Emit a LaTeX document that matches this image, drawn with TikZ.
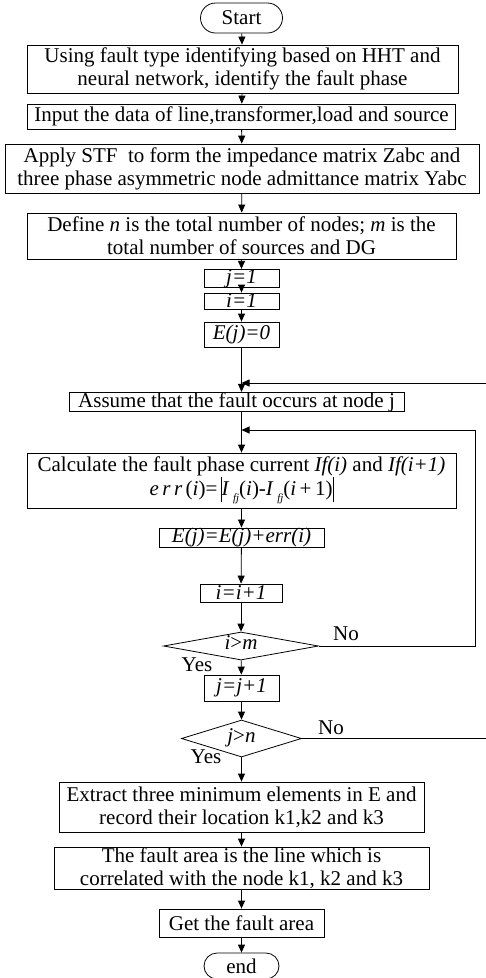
\documentclass[tikz,border=0pt]{standalone}
\usepackage{fontspec}
\setmainfont{Liberation Serif}
\usetikzlibrary{arrows.meta,shapes.geometric,shapes.misc}

\begin{document}
\begin{tikzpicture}[x=1pt,y=-1pt,
  font=\fontsize{21}{23}\selectfont,
  box/.style={draw, line width=0.8pt, inner sep=0pt, align=center},
  term/.style={draw, rounded rectangle, line width=0.8pt, inner sep=0pt},
  dia/.style={draw, diamond, line width=0.8pt, inner sep=0pt},
  arr/.style={line width=0.8pt, -{Triangle[length=8pt,width=7pt]}},
  lbl/.style={inner sep=0pt}]
	\useasboundingbox (0,0) rectangle (486,978);

	% Steps
	\node[term, minimum width=82pt, minimum height=30pt] (start) at (241.5,18) {Start};
	\node[box, minimum width=431pt, minimum height=48pt] (ident) at (242.5,69)
		{Using fault type identifying based on HHT and\\neural network, identify the fault phase};
	\node[box, minimum width=428pt, minimum height=25pt] (input) at (241.5,116.5)
		{Input the data of line,transformer,load and source};
	\node[box, minimum width=474pt, minimum height=49pt] (apply) at (242,168.5)
		{Apply STF\ \ to form the impedance matrix Zabc and\\three phase asymmetric node admittance matrix Yabc};
	\node[box, minimum width=429pt, minimum height=46pt] (define) at (241.5,236)
		{Define \textit{n} is the total number of nodes; \textit{m} is the\\total number of sources and DG};
	\node[box, minimum width=75pt, minimum height=17pt] (jone) at (241.5,278.5) {\textit{j=1}};
	\node[box, minimum width=75pt, minimum height=16pt] (ione) at (241.5,301) {\textit{i=1}};
	\node[box, minimum width=75pt, minimum height=25pt] (ezero) at (241.5,334.5) {\textit{E(j)=0}};
	\node[box, minimum width=335pt, minimum height=18pt] (assume) at (236.5,402)
		{Assume that the fault occurs at node j};
	\node[box, minimum width=429pt, minimum height=55pt] (calc) at (241.5,480.5)
		{Calculate the fault phase current \textit{If(i)} and \textit{If(i+1)}\\
		 \textit{e\,r\,r\,}(\textit{i})=\,\raisebox{-6pt}{\rule{0.9pt}{25pt}}\textit{I}\,\raisebox{-6pt}{\fontsize{11}{11}\selectfont\textit{fj}}(\textit{i})-\textit{I}\,\raisebox{-6pt}{\fontsize{11}{11}\selectfont\textit{fj}}(\textit{i}\,+\,1)\raisebox{-6pt}{\rule{0.9pt}{25pt}}};
	\node[box, minimum width=165pt, minimum height=17pt] (eadd) at (241.5,537.5) {\textit{E(j)=E(j)+err(i)}};
	\node[box, minimum width=82pt, minimum height=18pt] (iinc) at (241,593) {\textit{i=i+1}};
	\node[dia, minimum width=155pt, minimum height=28pt] (imax) at (241,646)
		{\smash{\makebox[0pt]{\raisebox{-3pt}{\textit{i}>\textit{m}}}}};
	\node[box, minimum width=75pt, minimum height=26pt] (jinc) at (241.5,688) {\textit{j=j+1}};
	\node[dia, minimum width=120pt, minimum height=37pt] (jmax) at (241.5,738.5)
		{\smash{\makebox[0pt]{\raisebox{-4pt}{\textit{j}>\textit{n}}}}};
	\node[box, minimum width=365pt, minimum height=50pt] (extract) at (241.5,807)
		{Extract three minimum elements in E and\\record their location k1,k2 and k3};
	\node[box, minimum width=375pt, minimum height=42pt] (area) at (241.5,868)
		{The fault area is the line which is\\correlated with the node k1, k2 and k3};
	\node[box, minimum width=165pt, minimum height=28pt] (getarea) at (241.5,923) {Get the fault area};
	\node[term, minimum width=75pt, minimum height=26pt] (finish) at (241.5,966) {end};

	% Branch labels
	\node[lbl] (noi) at (346,634) {No};
	\node[lbl] (yesi) at (197,665) {Yes};
	\node[lbl] (noj) at (331,728) {No};
	\node[lbl] (yesj) at (206,757) {Yes};

	% Loop joints
	\coordinate (jouter) at (241.5,383);
	\coordinate (jinner) at (241.5,430);
	\coordinate (router) at (486,383);
	\coordinate (rinner) at (475,430);

	% Arrows
	\draw[arr] (start) -- (ident);
	\draw[arr] (ident) -- (input);
	\draw[arr] (input) -- (apply);
	\draw[arr] (apply) -- (define);
	\draw[arr] (define) -- (jone);
	\draw[arr] (jone) -- (ione);
	\draw[arr] (ione) -- (ezero);
	\draw[arr] (ezero.south) -- (assume.north -| ezero.south);
	\draw[arr] (assume.south -| calc.north) -- (calc.north);
	\draw[arr] (calc) -- (eadd);
	\draw[arr] (eadd) -- (iinc);
	\draw[arr] (iinc) -- (imax);
	\draw[arr] (imax) -- (jinc);
	\draw[arr] (jinc) -- (jmax);
	\draw[arr] (jmax) -- (extract);
	\draw[arr] (extract) -- (area);
	\draw[arr] (area) -- (getarea);
	\draw[arr] (getarea) -- (finish);
	\draw[arr] (imax.east) -| (rinner) -- (jinner);
	\draw[arr] (jmax.east) -| (router) -- (jouter);
\end{tikzpicture}
\end{document}
